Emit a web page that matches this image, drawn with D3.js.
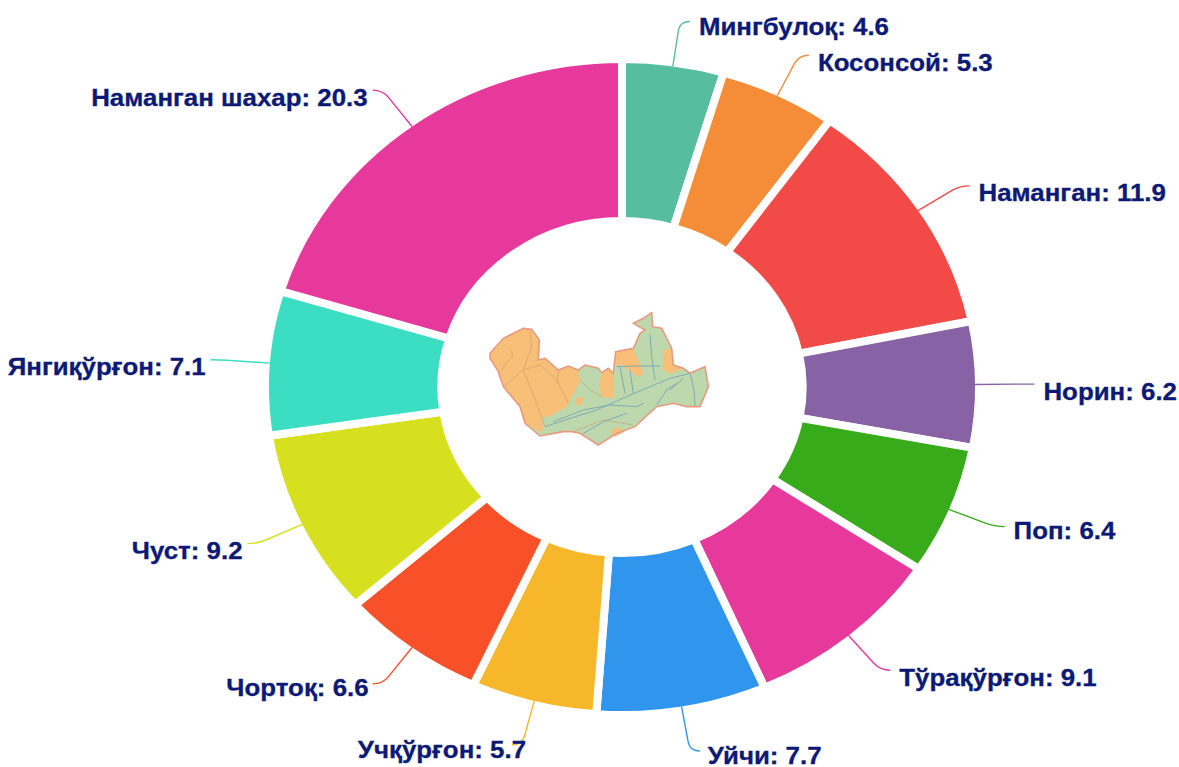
<!DOCTYPE html>
<html><head><meta charset="utf-8">
<script src="https://cdn.jsdelivr.net/npm/d3@7/dist/d3.min.js"></script>
<style>html,body{margin:0;padding:0;background:#fff}svg{display:block}</style></head>
<body><svg id="c" width="1179" height="767"></svg>
<script>
const districts=["Мингбулоқ","Косонсой","Наманган","Норин","Поп","Тўрақўрғон","Уйчи","Учқўрғон","Чортоқ","Чуст","Янгиқўрғон","Наманган шахар"];
const shares=[4.6,5.3,11.9,6.2,6.4,9.1,7.7,5.7,6.6,9.2,7.1,20.3];
const palette=["#56be9e","#f58d38","#f24a46","#8763a6","#37ab1a","#e6399b","#3095ec","#f6b82a","#f8512a","#d6e01e","#3cdec3","#e6399b"];
// decorative regional map outline, in its own local units
const mapOutline=[[60,190],[100,145],[160,115],[185,118],[208,150],[205,210],[225,205],[265,240],[295,228],[325,240],[345,225],[385,235],[395,248],[415,235],[430,250],[437,185],[490,175],[510,130],[525,120],[490,100],[520,85],[545,68],[548,110],[575,115],[590,145],[605,175],[610,225],[640,235],[660,250],[705,230],[715,290],[690,350],[650,350],[610,340],[560,350],[495,410],[440,430],[385,465],[330,430],[305,425],[280,425],[210,438],[165,400],[150,350],[100,290],[85,245],[60,205]];
const mapDry=[
[[60,190],[100,145],[160,115],[185,118],[208,150],[205,210],[225,205],[265,240],[295,228],[325,240],[330,275],[290,350],[240,378],[215,385],[220,420],[210,425],[165,400],[150,350],[100,290],[85,245],[60,205]],
[[395,248],[415,235],[430,255],[432,325],[395,320],[388,290]],
[[437,185],[490,175],[520,250],[505,262],[455,225],[437,225]],
[[580,180],[605,175],[610,225],[640,235],[600,252],[580,240]],
[[420,425],[445,410],[465,425],[435,440]],
[[318,325],[340,320],[335,345],[320,345]]];
const mapRivers=[
[[225,410],[300,385],[380,360],[470,320],[540,290],[600,265],[660,250]],
[[250,395],[340,360],[420,345],[500,350],[520,340]],
[[440,230],[500,228],[570,228]],
[[660,250],[672,300],[675,350]],
[[540,135],[545,200],[555,270]],
[[450,230],[465,310]],
[[600,300],[640,265]],
[[480,240],[490,310]],
[[560,345],[590,300],[620,280]],
[[340,430],[400,395],[470,370]]];
const mapBorders=[
[[160,240],[200,340],[225,410]],
[[100,290],[160,240],[185,170],[180,125]],
[[160,240],[210,225],[260,270],[295,340]],
[[265,240],[262,280]],
[[120,180],[130,195],[90,245]],
[[330,270],[360,300],[395,320]],
[[310,425],[400,390],[490,405]]];
const labelNudge=new Map([["Учқўрғон",[19,-2]],["Чортоқ",[1,-3]],["Поп",[0,-3]],["Уйчи",[-1,-3]],["Мингбулоқ",[0,-2]]]);

const W=1179,H=767,cx=622,cy=387,rxOut=357,ryOut=328,rxIn=181,ryIn=166,gap=8;
const svg=d3.select("#c");
const pie=d3.pie().sort(null).value(d=>d)(shares);
const arc=d3.arc().innerRadius(ryIn).outerRadius(ryOut);
const sx=rxOut/ryOut;
const g=svg.append("g").attr("transform",`translate(${cx},${cy}) scale(${sx},1)`);
g.selectAll("path").data(pie).join("path").attr("d",arc).attr("fill",(d,i)=>palette[i])
 .attr("stroke","#fff").attr("stroke-width",gap).attr("vector-effect","non-scaling-stroke").attr("stroke-linejoin","miter");

// leader lines + labels
const visX=353,visY=324,f=1.14,tail=10,textStretch=1.125;
const lab=svg.append("g");
pie.forEach((d,i)=>{
  const a=(d.startAngle+d.endAngle)/2,s=Math.sin(a),c=-Math.cos(a),dir=s>=0?1:-1;
  const x0=cx+visX*s,y0=cy+visY*c,x1=cx+visX*f*s,y1=cy+visY*f*c,x2=x1+dir*tail;
  const bend=d3.path();bend.moveTo(x0,y0);bend.lineTo(x0+(x1-x0)*.8,y0+(y1-y0)*.8);bend.quadraticCurveTo(x1,y1,x2,y1);
  lab.append("path").attr("d",bend.toString()).attr("fill","none").attr("stroke",palette[i]).attr("stroke-width",1.4);
  const [nx,ny]=labelNudge.get(districts[i])||[0,0];
  lab.append("text").attr("transform",`translate(${x2+dir*(dir>0?9:5)+nx},${y1+15.5+ny}) scale(${textStretch},1)`)
   .attr("text-anchor",dir>0?"start":"end")
   .attr("font-family","'Liberation Sans',Arial,sans-serif").attr("font-weight",700).attr("font-size",23)
   .attr("fill","#0d1a75").attr("stroke","#0d1a75").attr("stroke-width",.3).text(`${districts[i]}: ${d.data}`);
});

// centre map (local units mapped by scales)
const mx=d3.scaleLinear().domain([0,780]).range([470,730]);
const my=d3.scaleLinear().domain([0,540]).range([290,470]);
const line=d3.line().x(d=>mx(d[0])).y(d=>my(d[1]));
const defs=svg.append("defs");
defs.append("filter").attr("id","soft").append("feGaussianBlur").attr("stdDeviation",.4);
const m=svg.append("g").attr("filter","url(#soft)");
m.append("path").attr("d",line(mapOutline)+"Z").attr("fill","#bcd8ac");
m.selectAll(".dry").data(mapDry).join("path").attr("class","dry").attr("d",d=>line(d)+"Z").attr("fill","#f7bf78");
m.selectAll(".bor").data(mapBorders).join("path").attr("class","bor").attr("d",line).attr("fill","none").attr("stroke","#c99a68").attr("stroke-width",.6);
m.selectAll(".riv").data(mapRivers).join("path").attr("class","riv").attr("d",line).attr("fill","none").attr("stroke","#6f9fb8").attr("stroke-width",.8);
m.append("path").attr("d",line(mapOutline)+"Z").attr("fill","none").attr("stroke","#e89a80").attr("stroke-width",1.6);
</script></body></html>
